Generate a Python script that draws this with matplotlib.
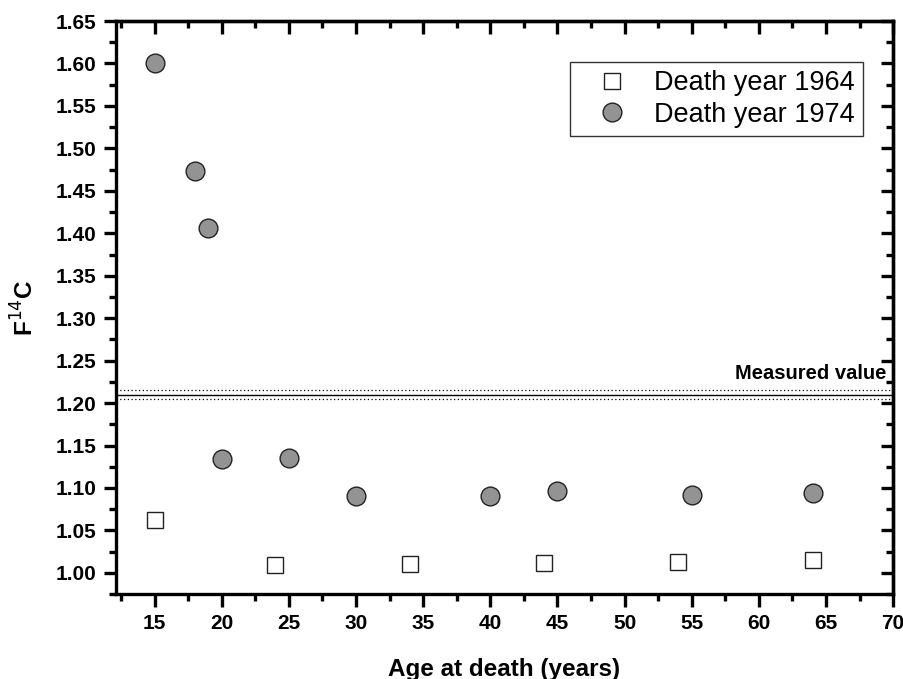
import numpy as np
import matplotlib.pyplot as plt
import matplotlib as mpl
from matplotlib.ticker import MultipleLocator

mpl.rcParams.update({
    'font.family': 'sans-serif',
    'font.sans-serif': ['Liberation Sans', 'DejaVu Sans'],
    'axes.linewidth': 2.4,
})

# data
age_1964 = [15, 24, 34, 44, 54, 64]
f14c_1964 = [1.062, 1.009, 1.011, 1.012, 1.013, 1.015]

age_1974 = [15, 18, 19, 20, 25, 30, 40, 45, 55, 64]
f14c_1974 = [1.600, 1.473, 1.406, 1.134, 1.135, 1.090, 1.091, 1.097, 1.092, 1.094]

measured = 1.21
measured_lo = 1.205
measured_hi = 1.216

fig = plt.figure(figsize=(9.04, 6.79), dpi=100)
ax = fig.add_axes([0.128, 0.125, 0.860, 0.844])

ax.axhline(measured, color='black', lw=1.0, zorder=1)
ax.axhline(measured_hi, color='black', lw=0.9, ls=(0, (1, 2)), zorder=1)
ax.axhline(measured_lo, color='black', lw=0.9, ls=(0, (1, 2)), zorder=1)
ax.text(69.5, measured + 0.025, 'Measured value', ha='right', va='center',
        fontsize=14.5, fontweight='bold')

ax.plot(age_1964, f14c_1964, ls='none', marker='s', ms=12, mfc='white',
        mec='#222222', mew=1.0, label='Death year 1964', zorder=3)
ax.plot(age_1974, f14c_1974, ls='none', marker='o', ms=13.5, mfc='#939393',
        mec='#222222', mew=1.0, label='Death year 1974', zorder=3)

ax.set_xlim(12.1, 70)
ax.set_ylim(0.975, 1.65)
ax.xaxis.set_major_locator(MultipleLocator(5))
ax.xaxis.set_minor_locator(MultipleLocator(2.5))
ax.yaxis.set_major_locator(MultipleLocator(0.05))
ax.yaxis.set_minor_locator(MultipleLocator(0.025))
ax.yaxis.set_major_formatter(mpl.ticker.FormatStrFormatter('%.2f'))

ax.tick_params(which='both', direction='out', width=2.4, top=False, right=False,
               labelsize=15)
ax.tick_params(which='major', length=9, pad=5)
ax.tick_params(which='minor', length=5)
for lab in ax.get_xticklabels() + ax.get_yticklabels():
    lab.set_fontweight('bold')

# inward mirrored ticks on top and right
sec_x = ax.secondary_xaxis('top')
sec_x.xaxis.set_major_locator(MultipleLocator(5))
sec_x.xaxis.set_minor_locator(MultipleLocator(2.5))
sec_x.tick_params(which='both', direction='in', width=2.4, labeltop=False)
sec_x.tick_params(which='major', length=9)
sec_x.tick_params(which='minor', length=5)
sec_y = ax.secondary_yaxis('right')
sec_y.yaxis.set_major_locator(MultipleLocator(0.05))
sec_y.yaxis.set_minor_locator(MultipleLocator(0.025))
sec_y.tick_params(which='both', direction='in', width=2.4, labelright=False)
sec_y.tick_params(which='major', length=9)
sec_y.tick_params(which='minor', length=5)

ax.set_xlabel('Age at death (years)', fontsize=17.5, fontweight='bold', labelpad=18)
ax.set_ylabel(r'F$^{\mathrm{14}}$C', fontsize=17.5, fontweight='bold', labelpad=12)

ax.legend(loc='upper right', bbox_to_anchor=(0.961, 0.928), fontsize=19.5,
          frameon=True, fancybox=False, edgecolor='#333333', framealpha=1,
          handlelength=2.5, handletextpad=0.3, borderpad=0.3,
          labelspacing=0.2, borderaxespad=0)

fig.savefig('out.png', dpi=100)
